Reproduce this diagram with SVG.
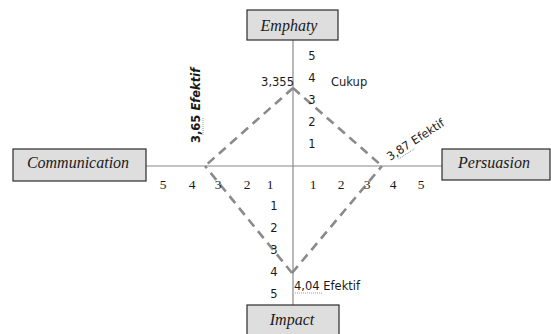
<svg xmlns="http://www.w3.org/2000/svg" width="551" height="334" viewBox="0 0 551 334">
<defs>
<style>
.box{fill:#dedede;stroke:#2b2b2b;stroke-width:1.2}
.boxt{font-family:"Liberation Serif",serif;font-style:italic;font-size:16px;fill:#1a1a1a;text-anchor:middle}
.axis{stroke:#8a8a8a;stroke-width:1.2;fill:none}
.dash{stroke:#8a8a8a;stroke-width:2.6;stroke-dasharray:9 6;fill:none}
.sn{font-family:"DejaVu Sans",sans-serif;font-size:11.5px;fill:#1a1a1a;text-anchor:middle}
.sl{font-family:"DejaVu Sans",sans-serif;font-size:11.5px;fill:#1a1a1a}
.rn{font-family:"Liberation Serif",serif;font-size:13.5px;fill:#1a1a1a;text-anchor:middle}
.sq{stroke:#9a9a9a;stroke-width:1;stroke-dasharray:1 1;fill:none}
</style>
</defs>
<rect width="551" height="334" fill="#ffffff"/>
<g id="connectors">
<line class="axis" x1="293" y1="40" x2="293" y2="305"/>
<line class="axis" x1="146" y1="166" x2="442" y2="166"/>
<line class="dash" x1="293" y1="88" x2="205" y2="166"/>
<line class="dash" x1="293" y1="88" x2="382" y2="166"/>
<line class="dash" x1="292" y1="273" x2="205" y2="166"/>
<line class="dash" x1="292" y1="273" x2="382" y2="166"/>
</g>
<g id="emphaty">
<rect class="box" x="247" y="10" width="91" height="30"/>
<text class="boxt" x="289" y="31">Emphaty</text>
</g>
<g id="communication">
<rect class="box" x="13" y="149" width="133" height="32"/>
<text class="boxt" x="78" y="168">Communication</text>
</g>
<g id="persuasion">
<rect class="box" x="442" y="149" width="108" height="31"/>
<text class="boxt" x="494" y="168">Persuasion</text>
</g>
<g id="impact">
<rect class="box" x="247" y="305" width="92" height="34"/>
<text class="boxt" x="292" y="325">Impact</text>
</g>
<g id="scale">
<text class="sn" x="312" y="60">5</text>
<text class="sn" x="312" y="82">4</text>
<text class="sn" x="312" y="104">3</text>
<text class="sn" x="312" y="126">2</text>
<text class="sn" x="312" y="148">1</text>
<text class="sn" x="274" y="210">1</text>
<text class="sn" x="274" y="232">2</text>
<text class="sn" x="274" y="254">3</text>
<text class="sn" x="274" y="276">4</text>
<text class="sn" x="274" y="298">5</text>
<text class="rn" x="163" y="188.5">5</text>
<text class="rn" x="192" y="188.5">4</text>
<text class="rn" x="218" y="188.5">3</text>
<text class="rn" x="247" y="188.5">2</text>
<text class="rn" x="270" y="188.5">1</text>
<text class="rn" x="313" y="188.5">1</text>
<text class="rn" x="341" y="188.5">2</text>
<text class="rn" x="367" y="188.5">3</text>
<text class="rn" x="393" y="188.5">4</text>
<text class="rn" x="421" y="188.5">5</text>
</g>
<g id="labels">
<text class="sl" x="294" y="86" text-anchor="end">3,355</text>
<text class="sl" x="331" y="86">Cukup</text>
<text class="sl" x="294" y="290">4,04 Efektif</text>
<line class="sq" x1="295" y1="293" x2="322" y2="293"/>
<text class="sl" transform="translate(390,161) rotate(-33)" font-size="11px">3,87 Efektif</text>
<line class="sq" transform="translate(390,161) rotate(-33)" x1="8" y1="3" x2="27" y2="3"/>
<text class="sl" transform="translate(200,143) rotate(-90)" font-size="10px" font-weight="bold">3,65 <tspan font-style="italic">Efektif</tspan></text>
<line class="sq" transform="translate(200,143) rotate(-90)" x1="8" y1="3" x2="25" y2="3"/>
</g>
</svg>
